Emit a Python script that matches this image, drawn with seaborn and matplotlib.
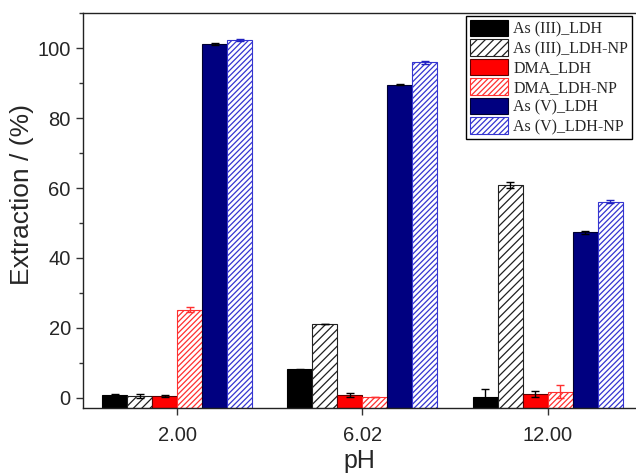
import numpy as np
import pandas as pd
import matplotlib
matplotlib.use("Agg")
import matplotlib.pyplot as plt
import seaborn as sns
from matplotlib.ticker import MultipleLocator

# ---- data ----
ph_labels = ["2.00", "6.02", "12.00"]
series = ["As (III)_LDH", "As (III)_LDH-NP", "DMA_LDH", "DMA_LDH-NP",
          "As (V)_LDH", "As (V)_LDH-NP"]
as3_ldh = [0.7, 8.1, 0.3]
as3_ldh_err = [0.35, 0.1, 2.2]
as3_np = [0.4, 21.1, 60.8]
as3_np_err = [0.6, 0.1, 0.8]
dma_ldh = [0.4, 0.8, 1.0]
dma_ldh_err = [0.3, 0.6, 0.8]
dma_np = [25.2, 0.2, 1.7]
dma_np_err = [0.7, 0.0, 1.8]
as5_ldh = [101.2, 89.6, 47.4]
as5_ldh_err = [0.3, 0.2, 0.4]
as5_np = [102.4, 96.0, 56.1]
as5_np_err = [0.2, 0.5, 0.4]

values = [as3_ldh, as3_np, dma_ldh, dma_np, as5_ldh, as5_np]
errors = [as3_ldh_err, as3_np_err, dma_ldh_err, dma_np_err, as5_ldh_err, as5_np_err]

rows = []
for s, vals in zip(series, values):
    for p, v in zip(ph_labels, vals):
        rows.append({"pH": p, "series": s, "value": v})
df = pd.DataFrame(rows)

# ---- styles ----
face = ["#000000", "#FFFFFF", "#FF0000", "#FFFFFF", "#000080", "#FFFFFF"]
edge = ["#000000", "#202020", "#600000", "#FF3030", "#000030", "#3535D0"]
hatch = [None, "////", None, "//////", None, "//////"]
ecol = ["#000000", "#000000", "#000000", "#FF3030", "#000000", "#2020C0"]

sns.set_style("ticks")
plt.rcParams["font.family"] = ["Liberation Sans", "DejaVu Sans"]
plt.rcParams["hatch.linewidth"] = 0.9

fig = plt.figure(figsize=(6.36, 4.76), dpi=100)
ax = fig.add_axes([83.3 / 636, 1 - 407.7 / 476, 1 - 83.3 / 636, (407.7 - 12.7) / 476])

sns.barplot(data=df, x="pH", y="value", hue="series", order=ph_labels,
            hue_order=series, width=0.81, errorbar=None, legend=False,
            palette=dict(zip(series, face)), ax=ax, saturation=1)

ymin, ymax = -2.86, 110.2
ax.set_ylim(ymin, ymax)
ax.set_xlim(-0.506, 2.477)

bar_conts = list(ax.containers)
handles = []
for i, cont in enumerate(bar_conts):
    for j, patch in enumerate(cont.patches):
        v = values[i][j]
        patch.set_y(ymin)
        patch.set_height(v - ymin)
        patch.set_facecolor(face[i])
        patch.set_edgecolor(edge[i])
        patch.set_linewidth(0.8)
        if hatch[i]:
            patch.set_hatch(hatch[i])
        xc = patch.get_x() + patch.get_width() / 2
        ax.errorbar(xc, v, yerr=errors[i][j], fmt="none", ecolor=ecol[i],
                    elinewidth=1.0, capsize=2.6, capthick=1.0, zorder=5)
    handles.append(cont)

ax.yaxis.set_major_locator(MultipleLocator(20))
ax.yaxis.set_minor_locator(MultipleLocator(10))
ax.tick_params(axis="both", which="major", direction="out", length=5, width=1,
               labelsize=14.5, color="#333333")
ax.tick_params(axis="y", which="minor", direction="out", length=3, width=1,
               color="#333333")
ax.tick_params(axis="x", pad=8)
ax.tick_params(axis="y", pad=4)

for sp in ["left", "bottom", "top"]:
    ax.spines[sp].set_visible(True)
    ax.spines[sp].set_color("#222222")
    ax.spines[sp].set_linewidth(1.0)
ax.spines["right"].set_visible(False)

ax.set_xlabel("pH", fontsize=18, labelpad=3)
ax.set_ylabel("Extraction / (%)", fontsize=19)
ax.yaxis.set_label_coords((34 - 83.3) / (636 - 83.3), (407.7 - 195) / (407.7 - 12.7))

leg = ax.legend(handles, series, loc="upper right",
                bbox_to_anchor=((632 - 83.3) / (636 - 83.3), (407.7 - 16) / (407.7 - 12.7)),
                borderaxespad=0, frameon=True, fancybox=False, framealpha=1,
                edgecolor="#000000", prop={"family": "Liberation Serif", "size": 11.5},
                handlelength=2.4, handleheight=1.2, labelspacing=0.12,
                handletextpad=0.3, borderpad=0.25)
leg.get_frame().set_linewidth(1.0)

fig.savefig("out.png", dpi=100)
